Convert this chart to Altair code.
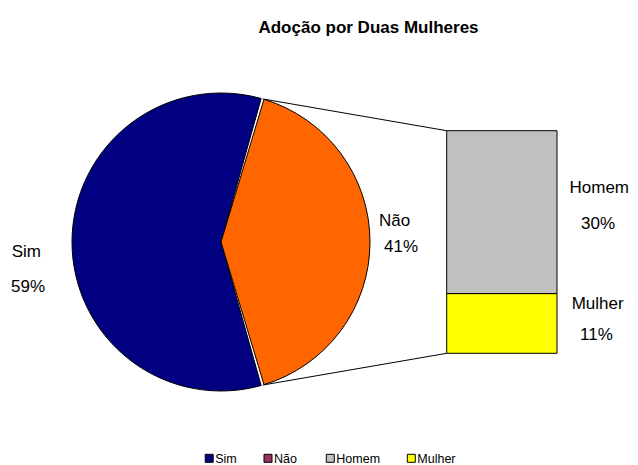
import math
import altair as alt
import pandas as pd

# ---------------- data ----------------
TITLE = "Adoção por Duas Mulheres"
pie_labels = ["Sim", "Não"]
pie_values = [59, 41]
pie_colors = ["#000080", "#FF6600"]
bar_labels = ["Homem", "Mulher"]
bar_values = [30, 11]
bar_colors = ["#C0C0C0", "#FFFF00"]
legend_labels = ["Sim", "Não", "Homem", "Mulher"]
legend_colors = ["#000080", "#993366", "#C0C0C0", "#FFFF00"]

# ---------------- layout ----------------
W, H = 622, 457
CX, CY, R = 213, 234, 149
BAR_X0, BAR_X1 = 438.7, 549.0
BAR_TOP, BAR_BOTTOM = 122.7, 345.3
FONT = "Liberation Sans"

xs = alt.Scale(domain=[0, W], nice=False, zero=False)
ys = alt.Scale(domain=[0, H], nice=False, zero=False, reverse=True)
X = lambda f: alt.X(f, type="quantitative", scale=xs, axis=None)
Y = lambda f: alt.Y(f, type="quantitative", scale=ys, axis=None)

# pie: second slice ("Não") centred on the right side
total = sum(pie_values)
share_n = pie_values[1] / total
a0 = math.pi / 2 - math.pi * share_n
a1 = a0 + 2 * math.pi * share_n

pie_df = pd.DataFrame({"label": pie_labels, "value": pie_values,
                       "color": pie_colors, "ord": [1, 0]})
arc = alt.Chart(pie_df).mark_arc(radius=R, stroke="black", strokeWidth=1,
                                 padAngle=0.02).encode(
    theta=alt.Theta("value:Q", stack=True,
                    scale=alt.Scale(range=[a0, a0 + 2 * math.pi])),
    order=alt.Order("ord:Q"),
    fill=alt.Fill("color:N", scale=None),
    x=alt.value(CX), y=alt.value(CY),
)

# bar: stacked, Mulher at the bottom
btotal = sum(bar_values)
bh = BAR_BOTTOM - BAR_TOP
rows = []
cum = 0
for lab, v, c in reversed(list(zip(bar_labels, bar_values, bar_colors))):
    rows.append({"label": lab, "x0": BAR_X0, "x1": BAR_X1,
                 "y0": BAR_BOTTOM - cum / btotal * bh,
                 "y1": BAR_BOTTOM - (cum + v) / btotal * bh, "color": c})
    cum += v
bar_df = pd.DataFrame(rows)
bar = alt.Chart(bar_df).mark_rect(stroke="black", strokeWidth=1).encode(
    x=X("x0"), x2="x1", y=Y("y0"), y2="y1",
    fill=alt.Fill("color:N", scale=None),
)

# connector lines from the slice edges to the bar corners
line_df = pd.DataFrame({
    "x0": [CX + R * math.sin(a0), CX + R * math.sin(a1)],
    "y0": [CY - R * math.cos(a0), CY - R * math.cos(a1)],
    "x1": [BAR_X0, BAR_X0],
    "y1": [BAR_TOP, BAR_BOTTOM],
})
lines = alt.Chart(line_df).mark_rule(color="black", strokeWidth=1).encode(
    x=X("x0"), y=Y("y0"), x2="x1", y2="y1")

# data labels
lab_pos = {"Sim": [(3.7, 249.3), (3.0, 283.7)],
           "Não": [(371.0, 217.7), (376.0, 243.7)],
           "Homem": [(561.5, 184.7), (573.0, 221.3)],
           "Mulher": [(563.7, 301.0), (572.0, 332.0)]}
all_labels = pie_labels + bar_labels
all_values = pie_values + bar_values
trows = []
for lab, v in zip(all_labels, all_values):
    (nx, ny), (vx, vy) = lab_pos[lab]
    trows.append({"x": nx, "y": ny, "t": lab})
    trows.append({"x": vx, "y": vy, "t": f"{v}%"})
text_df = pd.DataFrame(trows)
texts = alt.Chart(text_df).mark_text(align="left", baseline="alphabetic",
                                     font=FONT, fontSize=17, color="black").encode(
    x=X("x"), y=Y("y"), text="t:N")

title = alt.Chart(pd.DataFrame({"x": [360.5], "y": [25.0], "t": [TITLE]})).mark_text(
    align="center", baseline="alphabetic", font=FONT, fontSize=17,
    fontWeight="bold", color="black").encode(x=X("x"), y=Y("y"), text="t:N")

# legend
leg_sq_x = [201.2, 260.0, 322.3, 403.3]
leg_df = pd.DataFrame({"label": legend_labels, "color": legend_colors,
                       "x": leg_sq_x, "y": [450.3] * 4,
                       "tx": [v + 6.0 for v in leg_sq_x], "ty": [455.0] * 4})
leg_sq = alt.Chart(leg_df).mark_square(size=64, stroke="black", strokeWidth=1,
                                       opacity=1, filled=True).encode(
    x=X("x"), y=Y("y"), fill=alt.Fill("color:N", scale=None))
leg_tx = alt.Chart(leg_df).mark_text(align="left", baseline="alphabetic",
                                     font=FONT, fontSize=12.5, color="black").encode(
    x=X("tx"), y=Y("ty"), text="label:N")

chart = alt.layer(lines, arc, bar, texts, title, leg_sq, leg_tx).properties(
    width=W, height=H, autosize=alt.AutoSizeParams(type="none"), padding=0
).configure_view(stroke=None)

chart.save("out.html", embed_options={"renderer": "svg", "actions": False})
